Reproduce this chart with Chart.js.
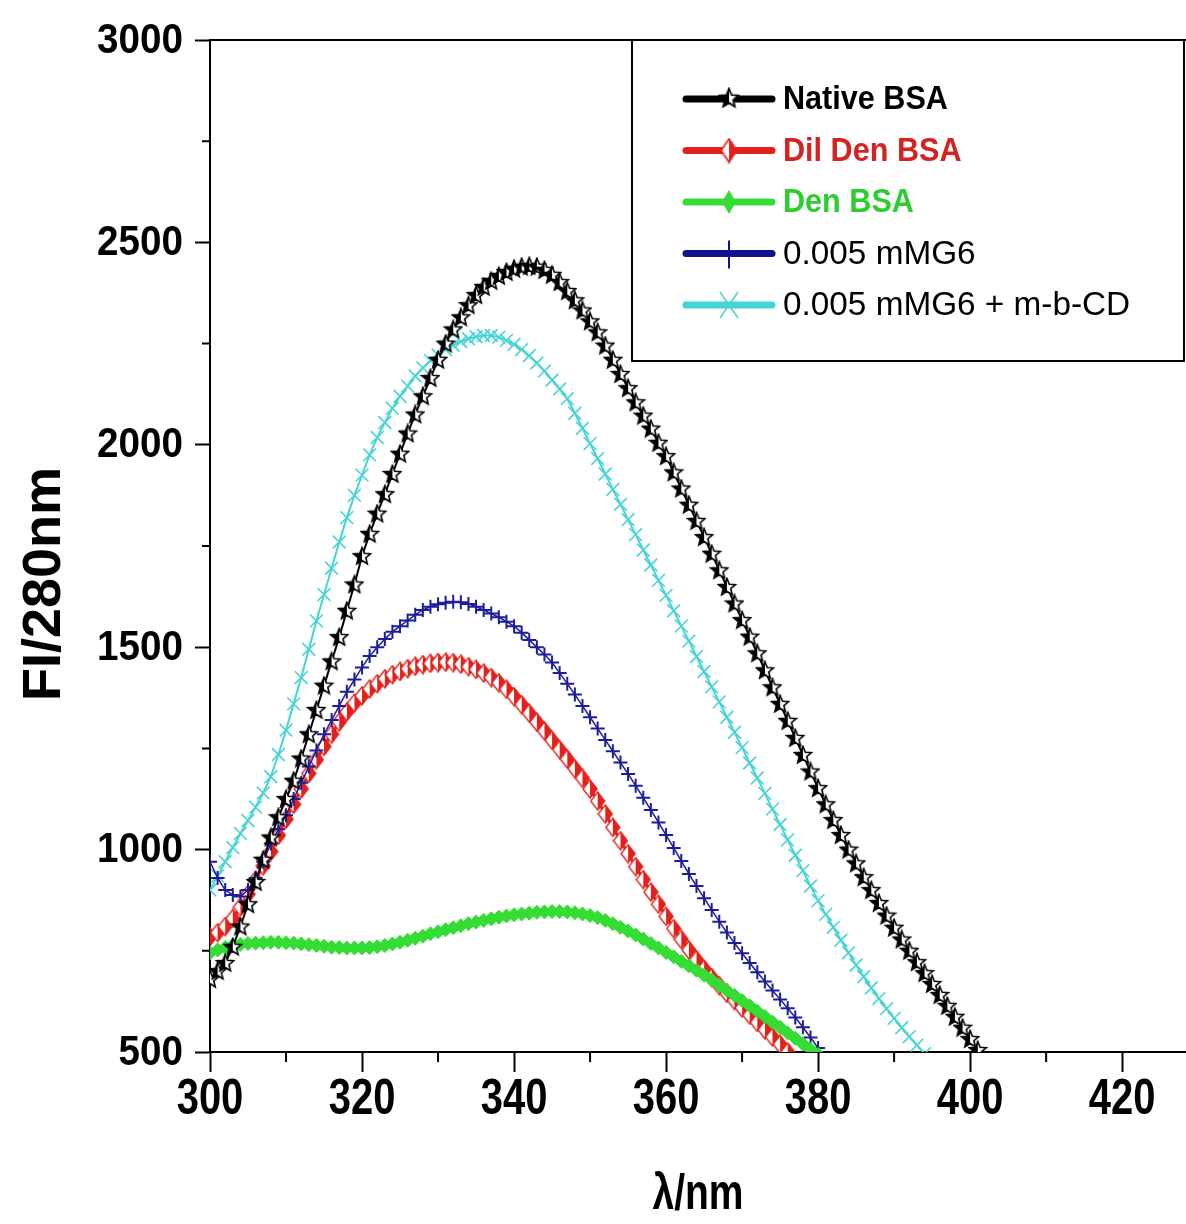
<!DOCTYPE html>
<html>
<head>
<meta charset="utf-8">
<title>BSA fluorescence</title>
<script src="https://cdn.jsdelivr.net/npm/chart.js@4.4.1/dist/chart.umd.min.js"></script>
<style>
  html, body { margin: 0; padding: 0; background: #fff; }
  #wrap { width: 1186px; height: 1224px; }
</style>
</head>
<body>
<div id="wrap"><canvas id="chart" width="1186" height="1224"></canvas></div>
<script>
// wavelength grid (nm), one reading per nm
const wavelengths = [
  300, 301, 302, 303, 304, 305, 306, 307, 308, 309, 310, 311, 312, 313, 314, 315, 316, 317, 318, 319,
  320, 321, 322, 323, 324, 325, 326, 327, 328, 329, 330, 331, 332, 333, 334, 335, 336, 337, 338, 339,
  340, 341, 342, 343, 344, 345, 346, 347, 348, 349, 350, 351, 352, 353, 354, 355, 356, 357, 358, 359,
  360, 361, 362, 363, 364, 365, 366, 367, 368, 369, 370, 371, 372, 373, 374, 375, 376, 377, 378, 379,
  380, 381, 382, 383, 384, 385, 386, 387, 388, 389, 390, 391, 392, 393, 394, 395, 396, 397, 398, 399,
  400, 401
];

const seriesNames = ["Native BSA", "Dil Den BSA", "Den BSA", "0.005 mMG6", "0.005 mMG6 + m-b-CD"];

// FI values, starting at 300 nm
const nativeBSA = [
  680, 700, 720, 760, 810, 865, 920, 975, 1030, 1080, 1125, 1170, 1225, 1285, 1345, 1405, 1465, 1525, 1590, 1655,
  1725, 1780, 1830, 1878, 1928, 1978, 2028, 2075, 2120, 2165, 2210, 2250, 2285, 2315, 2345, 2370, 2390, 2405, 2417, 2427,
  2435, 2440, 2442, 2440, 2432, 2420, 2402, 2380, 2357, 2332, 2305, 2278, 2245, 2210, 2175, 2140, 2105, 2072, 2040, 2005,
  1972, 1932, 1892, 1852, 1812, 1772, 1731, 1690, 1649, 1608, 1567, 1526, 1485, 1443, 1401, 1360, 1318, 1276, 1234, 1193,
  1152, 1112, 1073, 1036, 1000, 966, 932, 900, 868, 837, 807, 778, 750, 722, 695, 668, 641, 614, 587, 560,
  532, 505
];
const dilDenBSA = [
  785, 795, 810, 830, 858, 890, 925, 960, 995, 1035, 1075, 1112, 1150, 1188, 1222, 1255, 1285, 1315, 1340, 1362,
  1380, 1397, 1410, 1422, 1432, 1440, 1447, 1453, 1457, 1460, 1462, 1463, 1462, 1458, 1452, 1445, 1436, 1425, 1412, 1396,
  1378, 1358, 1337, 1315, 1293, 1270, 1247, 1224, 1200, 1176, 1150, 1120, 1088, 1055, 1022, 990, 958, 926, 895, 865,
  835, 805, 778, 752, 728, 705, 684, 664, 645, 627, 609, 591, 573, 555, 537, 519, 500
];
const denBSA = [
  745, 752, 758, 763, 766, 768, 769, 770, 771, 771, 770, 769, 767, 765, 763, 761, 759, 758, 757, 757,
  757, 758, 760, 763, 767, 771, 776, 781, 786, 792, 797, 802, 807, 812, 817, 821, 825, 829, 833, 836,
  839, 841, 843, 845, 846, 847, 847, 846, 844, 841, 837, 832, 825, 817, 808, 799, 789, 779, 768, 757,
  746, 735, 724, 713, 702, 690, 678, 665, 652, 640, 627, 614, 601, 588, 574, 561, 547, 534, 520, 507,
  494
];
const mMG6 = [
  970, 930, 900, 888, 884, 900, 930, 970, 1015, 1050, 1085, 1125, 1165, 1205, 1245, 1285, 1320, 1355, 1390, 1420,
  1450, 1478, 1500, 1520, 1538, 1552, 1566, 1580, 1592, 1600, 1606, 1610, 1612, 1611, 1607, 1600, 1592, 1583, 1574, 1563,
  1552, 1536, 1518, 1500, 1482, 1462, 1436, 1410, 1383, 1355, 1327, 1299, 1271, 1243, 1215, 1187, 1158, 1128, 1098, 1067,
  1036, 1004, 972, 940, 910, 880, 851, 822, 795, 769, 744, 720, 697, 674, 652, 630, 608, 585, 561, 536,
  510
];
const mMG6CD = [
  900, 935, 970, 1005, 1040, 1072, 1105, 1140, 1180, 1235, 1295, 1360, 1425, 1495, 1565, 1630, 1695, 1760, 1820, 1875,
  1925, 1975, 2018, 2055, 2090, 2120, 2145, 2170, 2190, 2208, 2222, 2235, 2246, 2255, 2262, 2267, 2270, 2270, 2266, 2258,
  2248, 2235, 2220, 2202, 2182, 2160, 2138, 2114, 2078, 2041, 2003, 1966, 1928, 1890, 1853, 1815, 1778, 1740, 1703, 1665,
  1628, 1590, 1552, 1515, 1477, 1440, 1402, 1365, 1327, 1290, 1252, 1214, 1177, 1139, 1100, 1062, 1024, 986, 948, 910,
  874, 840, 808, 776, 745, 715, 686, 658, 632, 607, 583, 560, 538, 517, 496
];

const xTicks = [300, 320, 340, 360, 380, 400, 420];
const xMinorTicks = [310, 330, 350, 370, 390, 410];
const yTicks = [500, 1000, 1500, 2000, 2500, 3000];
const yMinorTicks = [750, 1250, 1750, 2250, 2750];

const FONT = '"Liberation Sans", Arial, sans-serif';

const colors = {
  black: "#000000",
  red: "#e3211c",
  green: "#34dc34",
  blue: "#1c1c9c",
  cyan: "#44d4d4"
};

// little canvases used as point markers
function makeMarker(w, h, draw) {
  const c = document.createElement("canvas");
  c.width = w;
  c.height = h;
  draw(c.getContext("2d"), w, h);
  return c;
}

function starPath(g, cx, cy, ro, ri) {
  g.beginPath();
  for (let i = 0; i < 10; i++) {
    const r = i % 2 === 0 ? ro : ri;
    const a = -Math.PI / 2 + i * Math.PI / 5;
    const px = cx + r * Math.cos(a), py = cy + r * Math.sin(a);
    if (i === 0) g.moveTo(px, py); else g.lineTo(px, py);
  }
  g.closePath();
}

const starMarker = makeMarker(20, 20, (g, w, h) => {
  starPath(g, w / 2, h / 2 + 0.5, 9, 4);
  g.fillStyle = "#fff";
  g.fill();
  g.save();
  g.clip();
  g.fillStyle = "#000";
  g.fillRect(0, 0, w / 2, h);
  g.restore();
  g.strokeStyle = "#000";
  g.lineWidth = 1.6;
  g.stroke();
});

const halfDiamond = makeMarker(16, 20, (g, w, h) => {
  g.beginPath();
  g.moveTo(w / 2, 1);
  g.lineTo(w - 1, h / 2);
  g.lineTo(w / 2, h - 1);
  g.lineTo(1, h / 2);
  g.closePath();
  g.fillStyle = "#fff";
  g.fill();
  g.save();
  g.clip();
  g.fillStyle = colors.red;
  g.fillRect(w / 2, 0, w / 2, h);
  g.restore();
  g.strokeStyle = colors.red;
  g.lineWidth = 1.4;
  g.stroke();
});

function pairs(values) {
  return values.map((v, i) => ({ x: wavelengths[i], y: v }));
}

const datasets = [
  {
    label: seriesNames[0], data: pairs(nativeBSA), order: 0,
    borderColor: colors.black, borderWidth: 2,
    pointStyle: starMarker, pointRadius: 9
  },
  {
    label: seriesNames[1], data: pairs(dilDenBSA), order: 3,
    borderColor: colors.red, borderWidth: 3,
    pointStyle: halfDiamond, pointRadius: 9
  },
  {
    label: seriesNames[2], data: pairs(denBSA), order: 1,
    borderColor: colors.green, borderWidth: 7,
    pointStyle: "rectRot", pointRadius: 7, pointBorderWidth: 1,
    pointBackgroundColor: colors.green, pointBorderColor: colors.green
  },
  {
    label: seriesNames[3], data: pairs(mMG6), order: 2,
    borderColor: colors.blue, borderWidth: 1.5,
    pointStyle: "cross", pointRadius: 7, pointBorderWidth: 2,
    pointBorderColor: colors.blue, pointBackgroundColor: colors.blue
  },
  {
    label: seriesNames[4], data: pairs(mMG6CD), order: 4,
    borderColor: colors.cyan, borderWidth: 2,
    pointStyle: "crossRot", pointRadius: 9, pointBorderWidth: 1.6,
    pointBorderColor: colors.cyan, pointBackgroundColor: colors.cyan
  }
];

// draws text squeezed horizontally, to get the narrow look of the original
function squeezed(ctx, text, x, y, font, sx, align) {
  ctx.save();
  ctx.translate(x, y);
  ctx.scale(sx, 1);
  ctx.font = font;
  ctx.textAlign = align;
  ctx.textBaseline = "middle";
  ctx.fillText(text, 0, 0);
  ctx.restore();
}

// tick labels, legend, minor ticks, frame and axis titles
const decorPlugin = {
  id: "decor",
  afterDraw(chart) {
    const { ctx, chartArea, scales } = chart;
    const { left, right, top, bottom } = chartArea;
    ctx.save();
    ctx.strokeStyle = "#000";
    ctx.fillStyle = "#000";
    ctx.lineWidth = 2;

    // top frame line
    ctx.beginPath();
    ctx.moveTo(left, top);
    ctx.lineTo(right, top);
    ctx.stroke();

    // minor ticks
    ctx.beginPath();
    xMinorTicks.forEach((v) => {
      const px = scales.x.getPixelForValue(v);
      ctx.moveTo(px, bottom);
      ctx.lineTo(px, bottom + 10);
    });
    yMinorTicks.forEach((v) => {
      const py = scales.y.getPixelForValue(v);
      ctx.moveTo(left, py);
      ctx.lineTo(left - 8, py);
    });
    ctx.stroke();

    // tick labels
    xTicks.forEach((v) => {
      squeezed(ctx, String(v), scales.x.getPixelForValue(v), bottom + 48, "bold 50px " + FONT, 0.8, "center");
    });
    yTicks.forEach((v) => {
      squeezed(ctx, String(v), left - 27, scales.y.getPixelForValue(v) + 1, "bold 42px " + FONT, 0.92, "right");
    });

    // axis titles
    squeezed(ctx, "\u03bb/nm", (left + right) / 2, bottom + 143, "bold 50px " + FONT, 0.78, "center");
    ctx.save();
    ctx.translate(left - 165, (top + bottom) / 2 + 38);
    ctx.rotate(-Math.PI / 2);
    ctx.font = "bold 54px " + FONT;
    ctx.textAlign = "center";
    ctx.textBaseline = "middle";
    ctx.fillText("FI/280nm", 0, 0);
    ctx.restore();

    // legend box
    const bx = left + 422, by = top, bw = right - 2 - bx, bh = 321;
    ctx.fillStyle = "#fff";
    ctx.fillRect(bx, by, bw, bh);
    ctx.strokeRect(bx, by, bw, bh);

    const legendColors = [colors.black, colors.red, colors.green, "#12128c", colors.cyan];
    const textColors = ["#000", "#d42323", "#2fcc2f", "#000", "#000"];
    const bold = [true, true, true, false, false];
    const lx0 = bx + 54, lx1 = bx + 140, mx = bx + 97, tx = bx + 151;
    seriesNames.forEach((name, i) => {
      const y = by + 59 + i * 51.5;
      ctx.strokeStyle = legendColors[i];
      ctx.lineWidth = 7;
      ctx.lineCap = "round";
      ctx.beginPath();
      ctx.moveTo(lx0, y);
      ctx.lineTo(lx1, y);
      ctx.stroke();
      ctx.lineCap = "butt";
      if (i === 0) {
        ctx.drawImage(starMarker, mx - 11, y - 12, 22, 22);
      } else if (i === 1) {
        ctx.drawImage(halfDiamond, mx - 9, y - 13, 18, 26);
      } else if (i === 2) {
        ctx.fillStyle = colors.green;
        ctx.beginPath();
        ctx.moveTo(mx, y - 12); ctx.lineTo(mx + 7, y); ctx.lineTo(mx, y + 12); ctx.lineTo(mx - 7, y);
        ctx.closePath();
        ctx.fill();
      } else if (i === 3) {
        ctx.lineWidth = 2;
        ctx.beginPath();
        ctx.moveTo(mx, y - 13); ctx.lineTo(mx, y + 15);
        ctx.stroke();
      } else {
        ctx.lineWidth = 1.5;
        ctx.beginPath();
        ctx.moveTo(mx - 9, y - 13); ctx.lineTo(mx + 9, y + 13);
        ctx.moveTo(mx + 9, y - 13); ctx.lineTo(mx - 9, y + 13);
        ctx.stroke();
      }
      ctx.fillStyle = textColors[i];
      if (bold[i]) {
        squeezed(ctx, name, tx, y + 1, "bold 34px " + FONT, 0.9, "left");
      } else {
        squeezed(ctx, name, tx, y + 1, "34px " + FONT, 0.98, "left");
      }
    });
    ctx.restore();
  }
};

const ctx = document.getElementById("chart").getContext("2d");

new Chart(ctx, {
  type: "line",
  data: { datasets: datasets },
  options: {
    responsive: false,
    animation: false,
    layout: { autoPadding: false, padding: { top: 40, left: 0, right: 0, bottom: 0 } },
    elements: { line: { tension: 0, fill: false } },
    plugins: {
      legend: { display: false },
      tooltip: { enabled: false }
    },
    scales: {
      x: {
        type: "linear",
        min: 300,
        max: 428.4,
        afterBuildTicks: (scale) => { scale.ticks = xTicks.map((v) => ({ value: v })); },
        afterFit: (scale) => { scale.height = 172; },
        grid: { drawOnChartArea: false, color: "#000", tickLength: 20, tickWidth: 2 },
        border: { color: "#000", width: 2 },
        ticks: { display: false }
      },
      y: {
        type: "linear",
        min: 500,
        max: 3000,
        afterBuildTicks: (scale) => { scale.ticks = yTicks.map((v) => ({ value: v })); },
        afterFit: (scale) => { scale.width = 210; },
        grid: { drawOnChartArea: false, color: "#000", tickLength: 15, tickWidth: 2 },
        border: { color: "#000", width: 2 },
        ticks: { display: false }
      }
    }
  },
  plugins: [decorPlugin]
});
</script>
</body>
</html>
